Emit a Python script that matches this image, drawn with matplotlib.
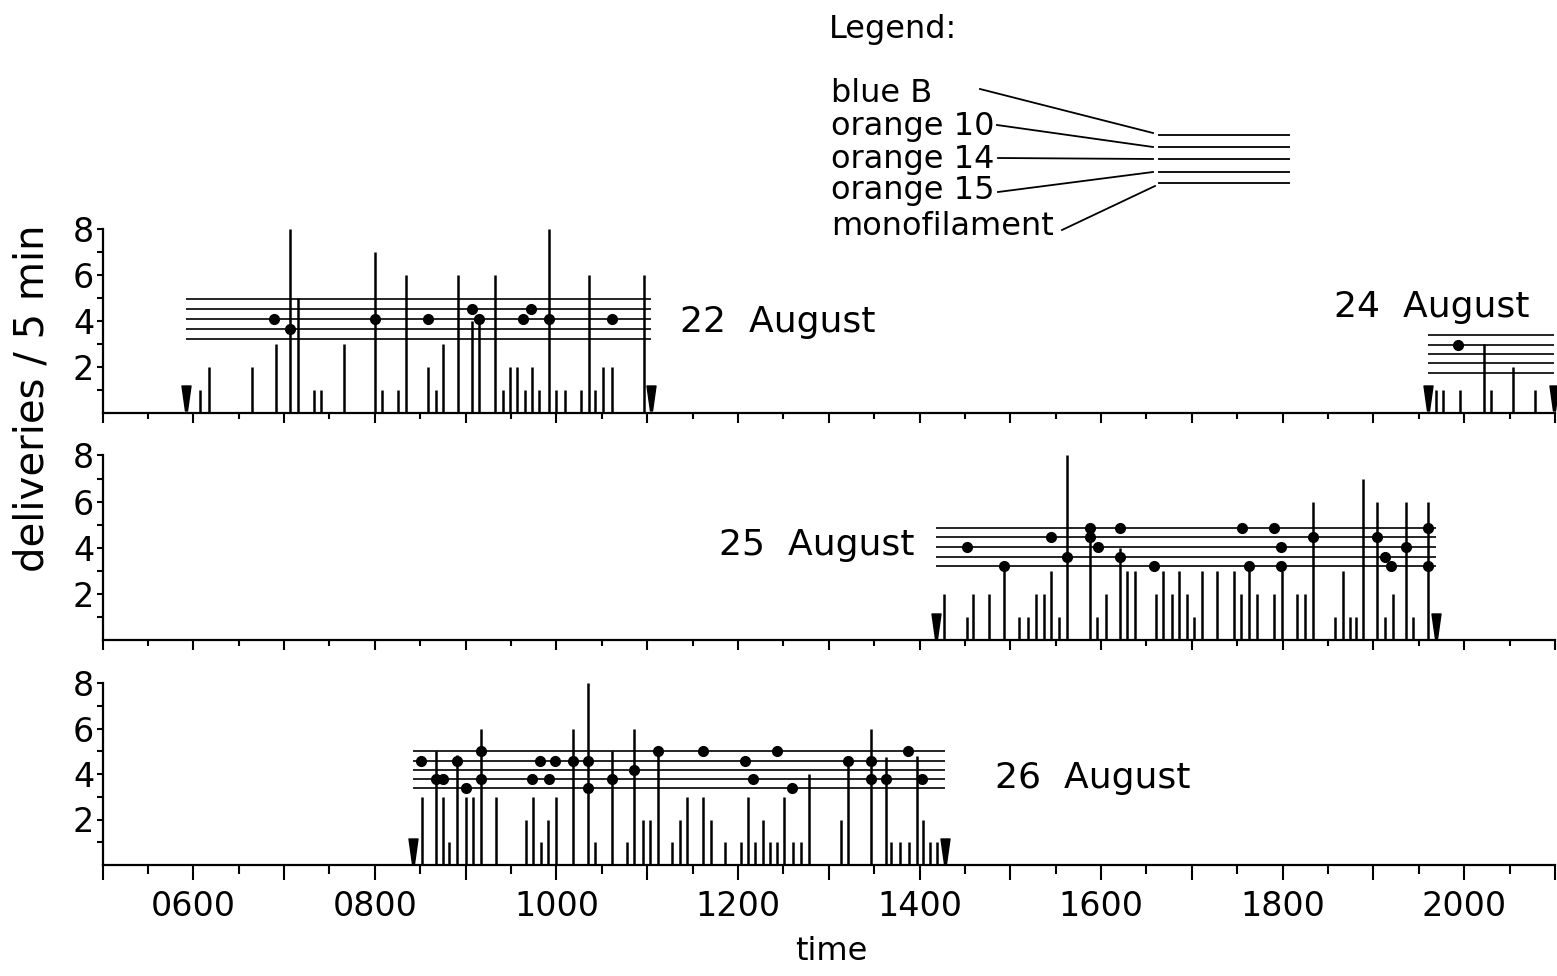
import matplotlib
matplotlib.use("Agg")
import matplotlib.pyplot as plt
from matplotlib.path import Path
from matplotlib.ticker import FixedLocator, FuncFormatter
import numpy as np

plt.rcParams['font.family'] = ['DejaVu Sans']

# ---------------- data (clock time as decimal hours) ----------------
# 22 August
aug22_times = [6.07, 6.17, 6.65, 6.91, 7.07, 7.15, 7.33, 7.41, 7.66, 8.00, 8.08, 8.25,
               8.34, 8.59, 8.67, 8.75, 8.92, 9.07, 9.15, 9.32, 9.41, 9.49, 9.57, 9.65,
               9.73, 9.81, 9.92, 10.00, 10.09, 10.27, 10.36, 10.43, 10.51, 10.61, 10.96]
aug22_counts = [1, 2, 2, 3, 8, 5, 1, 1, 3, 7, 1, 1,
                6, 2, 1, 3, 6, 4, 4, 6, 1, 2, 2, 1,
                2, 1, 8, 1, 1, 1, 6, 1, 2, 2, 6]
aug22_dot_times = [6.89, 7.07, 8.00, 8.59, 9.07, 9.15, 9.63, 9.72, 9.92, 10.61]
aug22_dot_lines = [2, 3, 2, 2, 1, 2, 2, 1, 2, 2]
aug22_session = [5.92, 11.04]

# 24 August
aug24_times = [19.69, 19.77, 19.95, 20.22, 20.29, 20.54, 20.78]
aug24_counts = [1, 1, 1, 3, 1, 2, 1]
aug24_dot_times = [19.93]
aug24_dot_lines = [1]
aug24_session = [19.60, 20.99]

# 25 August
aug25_times = [14.27, 14.52, 14.59, 14.76, 14.93, 15.10, 15.19, 15.28, 15.37, 15.45,
               15.54, 15.62, 15.88, 15.96, 16.05, 16.21, 16.28, 16.37, 16.60, 16.68,
               16.78, 16.86, 16.95, 17.02, 17.11, 17.28, 17.46, 17.54, 17.63, 17.72,
               17.90, 17.99, 18.16, 18.25, 18.33, 18.58, 18.66, 18.74, 18.81, 18.89,
               19.04, 19.13, 19.21, 19.36, 19.44, 19.60]
aug25_counts = [2, 1, 2, 2, 3.2, 1, 1, 2, 2, 3,
                1, 8, 4.45, 1, 2, 4, 3, 3, 2, 3,
                2, 3, 2, 1, 3, 3, 3, 2, 3, 2,
                2, 3, 2, 2, 6, 1, 3, 1, 1, 7,
                6, 1, 2, 6, 1, 6]
aug25_dot_times = [14.52, 14.93, 15.45, 15.62, 15.88, 15.88, 15.97, 16.21, 16.21, 16.58,
                   17.55, 17.63, 17.90, 17.98, 17.98, 18.33, 19.04, 19.13, 19.19, 19.36,
                   19.60, 19.60]
aug25_dot_lines = [2, 4, 1, 3, 0, 1, 2, 0, 3, 4,
                   0, 4, 0, 2, 4, 1, 1, 3, 4, 2,
                   0, 4]
aug25_session = [14.18, 19.69]

# 26 August
aug26_times = [8.52, 8.67, 8.75, 8.82, 8.91, 9.00, 9.08, 9.17, 9.33, 9.66, 9.74, 9.83,
               9.91, 10.00, 10.18, 10.35, 10.43, 10.61, 10.78, 10.86, 10.95, 11.03, 11.12,
               11.27, 11.36, 11.44, 11.62, 11.70, 11.86, 12.03, 12.11, 12.19, 12.28, 12.35,
               12.43, 12.51, 12.61, 12.69, 12.78, 13.13, 13.21, 13.47, 13.63, 13.69, 13.79,
               13.88, 13.97, 14.04, 14.12, 14.19]
aug26_counts = [3, 5, 3, 1, 4.85, 3, 3, 6, 3, 2, 3, 1,
                2, 3, 6, 8, 1, 5, 1, 6, 2, 2, 5,
                1, 2, 3, 3, 2, 1, 1, 3, 1, 2, 1,
                1, 3, 1, 1, 4, 2, 4.6, 6, 4.75, 1, 1,
                1, 4.8, 2, 1, 1]
aug26_dot_times = [8.51, 8.67, 8.75, 8.91, 9.00, 9.17, 9.17, 9.73, 9.82, 9.92, 9.99,
                   10.18, 10.35, 10.35, 10.61, 10.86, 11.12, 11.62, 12.08, 12.17, 12.43,
                   12.59, 13.21, 13.47, 13.47, 13.63, 13.87, 14.03]
aug26_dot_lines = [1, 3, 3, 1, 4, 0, 3, 3, 1, 3, 1,
                   1, 1, 4, 3, 2, 0, 0, 1, 3, 0,
                   4, 1, 1, 3, 3, 0, 3]
aug26_session = [8.42, 14.28]

line_names = ['blue B', 'orange 10', 'orange 14', 'orange 15', 'monofilament']
hour_ticks = list(range(5, 22))
half_ticks = [h + 0.5 for h in range(5, 21)]
count_ticks = [2, 4, 6, 8]
count_minor = [1, 3, 5, 7]

# ---------------- layout ----------------
W, H = 1557, 976
fig = plt.figure(figsize=(W / 100, H / 100), dpi=100)
fig.patch.set_facecolor('white')

x0_px, x1_px = 102.5, 1555.0
ytop = 8.2
FS_TICK = 24
FS_DAY = 26
FS_LEGEND = 23

# wedge marking start / end of an observation session
wedge = Path([(-0.36, 1.0), (0.36, 1.0), (0.08, -1.0), (-0.08, -1.0), (-0.36, 1.0)],
             [Path.MOVETO, Path.LINETO, Path.LINETO, Path.LINETO, Path.CLOSEPOLY])


def make_panel(base_px, unit_px, bottom_panel=False):
    ax = fig.add_axes([x0_px / W, 1 - base_px / H,
                       (x1_px - x0_px) / W, ytop * unit_px / H])
    ax.set_xlim(5, 21)
    ax.set_ylim(0, ytop)
    ax.patch.set_alpha(0)
    for s in ('top', 'right'):
        ax.spines[s].set_visible(False)
    ax.spines['left'].set_bounds(0, 8)
    ax.spines['left'].set_linewidth(1.6)
    ax.spines['bottom'].set_linewidth(1.6)
    ax.xaxis.set_major_locator(FixedLocator(hour_ticks))
    ax.xaxis.set_minor_locator(FixedLocator(half_ticks))
    ax.yaxis.set_major_locator(FixedLocator(count_ticks))
    ax.yaxis.set_minor_locator(FixedLocator(count_minor))
    ax.yaxis.set_major_formatter(FuncFormatter(lambda v, p: f"{int(v)}"))
    if bottom_panel:
        ax.xaxis.set_major_formatter(
            FuncFormatter(lambda v, p: f"{int(v):02d}00" if int(v) % 2 == 0 and 6 <= v <= 20 else ""))
        ax.tick_params(axis='x', which='major', length=11, width=1.5, pad=7,
                       labelsize=FS_TICK, direction='out')
        ax.tick_params(axis='x', which='minor', length=6.5, width=1.5, direction='out')
    else:
        ax.tick_params(axis='x', which='major', length=7, width=1.5, labelbottom=False,
                       direction='out')
        ax.tick_params(axis='x', which='minor', length=4.5, width=1.5, direction='out')
    ax.tick_params(axis='y', which='both', length=4, width=1.5, pad=2,
                   labelsize=FS_TICK, direction='out')
    return ax


def draw_session(ax, times, counts, dot_times, dot_lines, session, staff):
    ax.hlines(staff, session[0], session[1], color='black', lw=1.2, zorder=2)
    ax.vlines(times, 0, counts, color='black', lw=1.8, zorder=3)
    ax.plot(dot_times, [staff[i] for i in dot_lines], 'o', color='black',
            ms=7, ls='none', zorder=4)
    ax.plot(session, [0.62, 0.62], marker=wedge, ms=18, color='black',
            ls='none', zorder=4, clip_on=False)


ax1 = make_panel(412.7, 23.0)
ax2 = make_panel(640.3, 23.1)
ax3 = make_panel(865.0, 22.75, bottom_panel=True)

draw_session(ax1, aug22_times, aug22_counts, aug22_dot_times, aug22_dot_lines,
             aug22_session, [4.93, 4.50, 4.07, 3.62, 3.20])
draw_session(ax1, aug24_times, aug24_counts, aug24_dot_times, aug24_dot_lines,
             aug24_session, [3.38, 2.94, 2.56, 2.15, 1.74])
draw_session(ax2, aug25_times, aug25_counts, aug25_dot_times, aug25_dot_lines,
             aug25_session, [4.88, 4.46, 4.04, 3.62, 3.20])
draw_session(ax3, aug26_times, aug26_counts, aug26_dot_times, aug26_dot_lines,
             aug26_session, [5.00, 4.57, 4.18, 3.78, 3.37])

ax1.text(11.36, 3.95, '22  August', fontsize=FS_DAY, ha='left', va='center')
ax1.text(18.57, 4.6, '24  August', fontsize=FS_DAY, ha='left', va='center')
ax2.text(13.95, 4.13, '25  August', fontsize=FS_DAY, ha='right', va='center')
ax3.text(14.83, 3.82, '26  August', fontsize=FS_DAY, ha='left', va='center')

fig.text(33 / W, 1 - 398 / H, 'deliveries / 5 min', rotation=90, ha='center',
         va='center', fontsize=29)
fig.text(831 / W, 1 - 952 / H, 'time', ha='center', va='center', fontsize=23)

# hand-drawn legend in pixel space
lg = fig.add_axes([0, 0, 1, 1])
lg.set_xlim(0, W)
lg.set_ylim(H, 0)
lg.axis('off')
lg.patch.set_alpha(0)
lg.text(829, 38, 'Legend:', fontsize=FS_LEGEND, ha='left', va='baseline')
label_base = [102, 135, 168, 199, 235]
for name, yb in zip(line_names, label_base):
    lg.text(831, yb, name, fontsize=FS_LEGEND, ha='left', va='baseline')
key_y = [135, 147, 159, 172, 183]
lg.hlines(key_y, 1158, 1290, color='black', lw=1.3)
lead_from = [(980, 89), (997, 125), (998, 158), (998, 192), (1062, 230)]
lead_to = [(1153, 133), (1153, 147), (1153, 159), (1153, 172), (1155, 186)]
for (xa, ya), (xb, yb) in zip(lead_from, lead_to):
    lg.plot([xa, xb], [ya, yb], color='black', lw=1.3)

fig.savefig('out.png', dpi=100, facecolor='white')
